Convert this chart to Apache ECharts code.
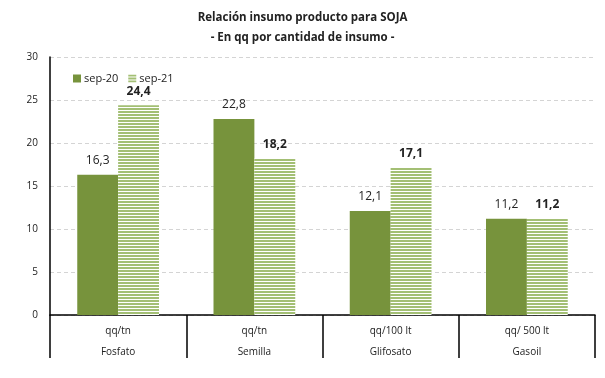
<!DOCTYPE html>
<html><head><meta charset="utf-8">
<script src="https://cdn.jsdelivr.net/npm/echarts@6/dist/echarts.min.js"></script>
<style>html,body{margin:0;padding:0;background:#fff}#c{width:605px;height:378px}</style>
</head><body><div id="c"></div>
<script>
var categories = ['Fosfato','Semilla','Glifosato','Gasoil'];
var units = ['qq/tn','qq/tn','qq/100 lt','qq/ 500 lt'];
var sep20 = [16.3, 22.8, 12.1, 11.2];
var sep21 = [24.4, 18.2, 17.1, 11.2];
var yTicks = [0,5,10,15,20,25,30];

var cv = document.createElement('canvas');
cv.width = 4; cv.height = 3;
var ctx = cv.getContext('2d');
ctx.fillStyle = '#ffffff'; ctx.fillRect(0,0,4,3);
ctx.fillStyle = '#a3bf74'; ctx.fillRect(0,0,4,2);

var font = '"Open Sans", sans-serif';
var chart = echarts.init(document.getElementById('c'), null, {renderer:'canvas'});
function fmt(p){ return p.value.toFixed(1).replace('.', ','); }
chart.setOption({
  animation:false,
  title:{text:'Relación insumo producto para SOJA', subtext:'- En qq por cantidad de insumo -', left:'center', top:7, itemGap:8,
    textStyle:{fontFamily:font, fontSize:11.5, fontWeight:'bold', color:'#222'},
    subtextStyle:{fontFamily:font, fontSize:11.5, fontWeight:'bold', color:'#222'}},
  legend:{left:68, top:68, itemWidth:8, itemHeight:8, itemGap:10, icon:'rect',
    textStyle:{fontFamily:font, fontSize:11, color:'#222', padding:[0,0,0,-2]}},
  grid:{left:50, right:10, top:57, bottom:63},
  xAxis:{type:'category', data:categories,
    axisLine:{lineStyle:{color:'#000', width:1.5}},
    axisTick:{show:true, length:43, interval:0, lineStyle:{color:'#000', width:1.5}},
    axisLabel:{interval:0, margin:6, fontFamily:font, fontSize:10, color:'#222', lineHeight:21,
      formatter:function(v,i){ return units[i] + '\n' + v; }}},
  yAxis:{type:'value', min:0, max:30, interval:5,
    axisLine:{show:true, lineStyle:{color:'#000', width:1.5}},
    axisTick:{show:false},
    splitLine:{lineStyle:{color:'#d4d4d4', type:[4,3]}},
    axisLabel:{fontFamily:font, fontSize:10, color:'#222', margin:12,
      formatter:function(v){ return yTicks.indexOf(v) >= 0 ? String(v) : ''; }}},
  series:[
    {name:'sep-20', type:'bar', data:sep20, barGap:'0%', barCategoryGap:'40%',
      itemStyle:{color:'#77933c'},
      label:{show:true, position:'top', distance:8, formatter:fmt, fontFamily:font, fontSize:12, color:'#222'}},
    {name:'sep-21', type:'bar', data:sep21,
      itemStyle:{color:{image:cv, repeat:'repeat'}},
      label:{show:true, position:'top', distance:8, formatter:fmt, fontFamily:font, fontSize:12, fontWeight:'bold', color:'#222'}}
  ]
});
</script></body></html>
